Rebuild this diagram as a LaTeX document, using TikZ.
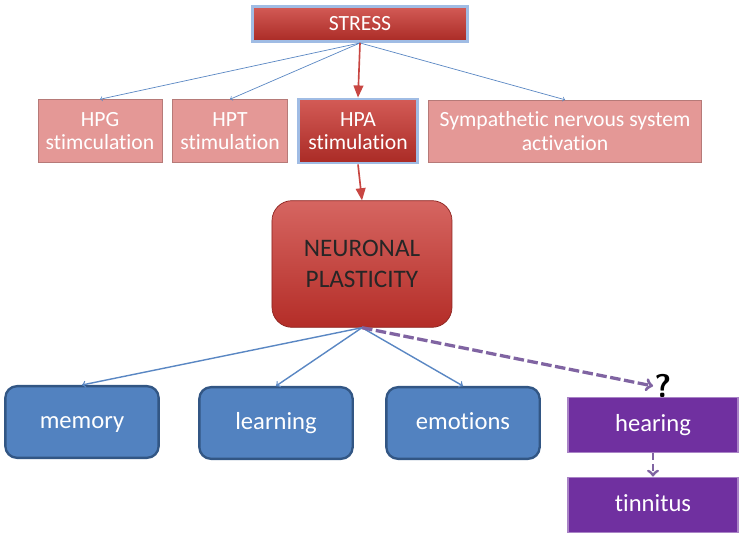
\documentclass[tikz,border=0pt]{standalone}
\usepackage{tikz}
\usetikzlibrary{shapes,arrows}
\usepackage{xcolor}
\usepackage{fontspec}
\setmainfont[Ligatures=NoCommon]{Carlito}
\definecolor{rojo}{RGB}{200,50,44}
\definecolor{rojoclaro}{RGB}{228,152,150}
\definecolor{azul}{RGB}{82,130,192}
\definecolor{azuloscuro}{RGB}{50,86,132}
\definecolor{morado}{RGB}{112,48,160}
\definecolor{brillo}{RGB}{160,188,228}
\definecolor{flecha}{RGB}{200,70,66}
\definecolor{linea}{RGB}{90,135,195}
\definecolor{guion}{RGB}{128,100,162}

\begin{document}
\begin{tikzpicture}[x=0.03cm,y=-0.03cm,
	caja/.style={rectangle,inner sep=0pt,align=center,text=white,font=\fontsize{18.5}{20}\selectfont},
	rosa/.style={caja,fill=rojoclaro,draw=rojoclaro!80!black,line width=0.4pt,minimum height=1.89cm},
	rojabox/.style={caja,top color=rojo!80!white,bottom color=rojo!85!black,draw=brillo,line width=2.5pt},
	azulbox/.style={caja,fill=azul,draw=azuloscuro,line width=2pt,rounded corners=0.35cm,minimum width=4.6cm,minimum height=2.15cm,text height=2.7ex,text depth=0.2ex,font=\fontsize{21}{24}\selectfont},
	moradobox/.style={caja,fill=morado,draw=morado!60!white,line width=1.5pt,minimum width=5.1cm,minimum height=1.65cm,text height=2.5ex,text depth=0.3ex,font=\fontsize{21}{24}\selectfont}]
		\useasboundingbox (0,0) rectangle (747,545);
		% nivel superior
		\node[rojabox,minimum width=6.45cm,minimum height=1.05cm] (stress) at (360,24) {STRESS};
		\node[rosa,minimum width=3.72cm] (hpg) at (100,131) {HPG\\stimculation};
		\node[rosa,minimum width=3.45cm] (hpt) at (230,131) {HPT\\stimulation};
		\node[rojabox,minimum width=3.57cm,minimum height=1.92cm] (hpa) at (358,131) {HPA\\stimulation};
		\node[rosa,minimum width=8.19cm,minimum height=1.86cm] (sns) at (565,131) {Sympathetic nervous system\\activation};
		% plasticidad
		\node[caja,top color=rojo!75!white,bottom color=rojo!90!black,draw=rojo!70!black,line width=0.6pt,rounded corners=0.6cm,minimum width=5.4cm,minimum height=3.8cm,text=black!85,font=\fontsize{21.5}{27}\selectfont] (np) at (362,264) {NEURONAL\\PLASTICITY};
		% nivel inferior
		\node[azulbox] (memory) at (82,422) {memory};
		\node[azulbox] (learning) at (276,423) {learning};
		\node[azulbox] (emotions) at (463,423) {emotions};
		\node[moradobox] (hearing) at (653,425) {hearing};
		\node[moradobox] (tinnitus) at (653,505) {tinnitus};
		\node[font=\sffamily\bfseries\fontsize{28}{28}\selectfont,inner sep=1pt] (q) at (663,386) {?};
		% flechas
		\draw[->,linea,line width=0.6pt] (stress.south) -- (hpg.north);
		\draw[->,linea,line width=0.6pt] (stress.south) -- (hpt.north);
		\draw[->,linea,line width=0.6pt] (stress.south) -- (sns.north);
		\draw[-triangle 45,flecha,line width=1.4pt] (stress.south) -- (hpa.north);
		\draw[-triangle 45,flecha,line width=1.4pt] (hpa.south) -- (np.north);
		\draw[->,linea,line width=1.2pt] (np.south) -- (memory.north);
		\draw[->,linea,line width=1.2pt] (np.south) -- (learning.north);
		\draw[->,linea,line width=1.2pt] (np.south) -- (emotions.north);
		\draw[->,guion,line width=2.8pt,dash pattern=on 9pt off 3pt] (np.south) -- (q.west);
		\draw[->,guion,line width=2.5pt,dash pattern=on 6pt off 3pt] (hearing.south) -- (tinnitus.north);
\end{tikzpicture}
\end{document}
